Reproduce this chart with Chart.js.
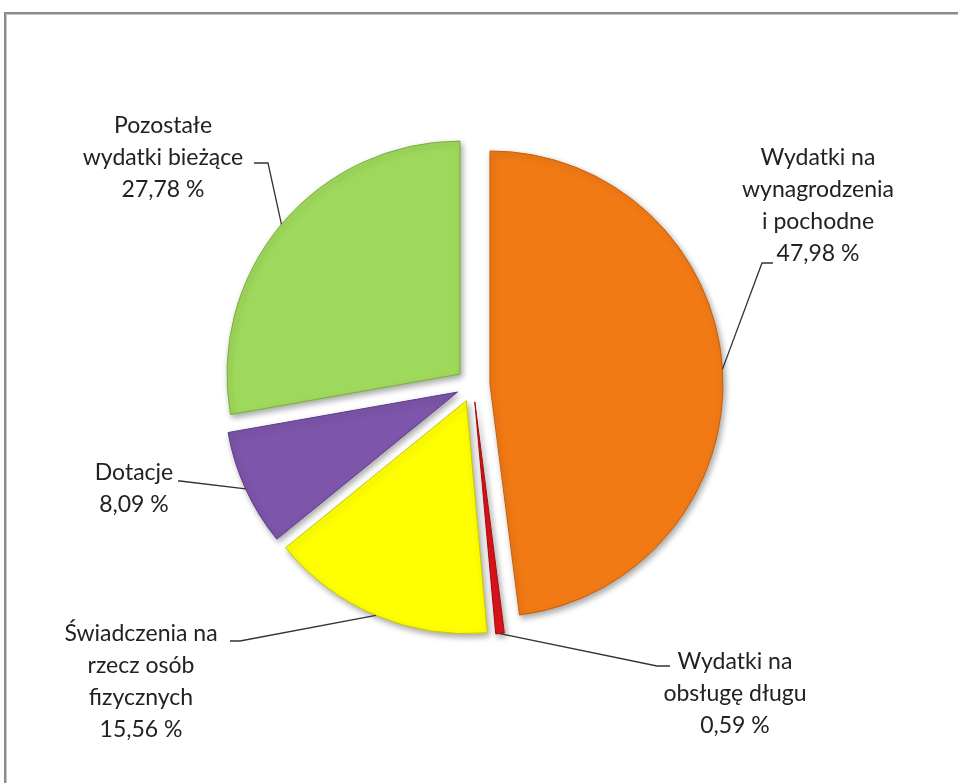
<!DOCTYPE html>
<html>
<head>
<meta charset="utf-8">
<script src="https://cdn.jsdelivr.net/npm/chart.js@4/dist/chart.umd.min.js"></script>
<style>
  body { margin: 0; background: #fff; overflow: hidden; }
  #frame {
    position: absolute; left: 4px; top: 12px; width: 1000px; height: 1000px;
    border: 2px solid #8a8a8a; box-shadow: inset 1px 1px 0 #c8c8c8;
  }
  #chart { position: absolute; left: 0; top: 0; }
</style>
</head>
<body>
<div id="frame"></div>
<canvas id="chart" width="958" height="783"></canvas>
<script>
// Slices, clockwise from 12 o'clock
const categories = [
    ['Wydatki na', 'wynagrodzenia', 'i pochodne'],
    ['Wydatki na', 'obsługę długu'],
    ['Świadczenia na', 'rzecz osób', 'fizycznych'],
    ['Dotacje'],
    ['Pozostałe', 'wydatki bieżące']
];
const shares = [47.98, 0.59, 15.56, 8.09, 27.78];
const sliceColors = ['#f27a15', '#e0141a', '#ffff00', '#7d55aa', '#9fd95c'];
const sliceEdges = ['#c85f08', '#a80c10', '#c8c800', '#5c3d85', '#78b03c'];

// Label placement: text centre x, first line y, leader elbow and horizontal end
const labelLayout = [
    { x: 818, y: 158, elbow: [762, 263], end: [773, 263] },
    { x: 735, y: 662, elbow: [657, 666], end: [670, 666] },
    { x: 141, y: 634, elbow: [240, 641], end: [230, 641] },
    { x: 134, y: 473, elbow: [180, 481], end: [178, 481] },
    { x: 163, y: 126, elbow: [268, 163], end: [254, 163] }
];

const EXPLODE = 17;      // px each slice moves out from the centre
const RADIUS = 233;
const LINE_H = 32;

function fmtPct(v) {
    return v.toFixed(2).replace('.', ',') + ' %';
}

// Explode slices by moving each arc's centre, plus a soft shadow
const explodePlugin = {
    id: 'explode',
    beforeDatasetsDraw(chart) {
        const area = chart.chartArea;
        const cx = (area.left + area.right) / 2;
        const cy = (area.top + area.bottom) / 2;
        chart.getDatasetMeta(0).data.forEach(arc => {
            const mid = (arc.startAngle + arc.endAngle) / 2;
            arc.x = cx + Math.cos(mid) * EXPLODE;
            arc.y = cy + Math.sin(mid) * EXPLODE;
        });
        const ctx = chart.ctx;
        ctx.save();
        ctx.shadowColor = 'rgba(0,0,0,0.35)';
        ctx.shadowBlur = 6;
        ctx.shadowOffsetX = 2;
        ctx.shadowOffsetY = 3;
    },
    afterDatasetsDraw(chart) {
        chart.ctx.restore();
    }
};

// Text labels with leader lines
const labelPlugin = {
    id: 'pieLabels',
    afterDraw(chart) {
        const ctx = chart.ctx;
        const meta = chart.getDatasetMeta(0);
        ctx.save();
        ctx.font = '23px Lato, "Noto Sans", sans-serif';
        ctx.fillStyle = '#222';
        ctx.textAlign = 'center';
        ctx.textBaseline = 'middle';
        ctx.strokeStyle = '#333';
        ctx.lineWidth = 1.3;

        meta.data.forEach((arc, i) => {
            const mid = (arc.startAngle + arc.endAngle) / 2;
            const ax = arc.x + Math.cos(mid) * arc.outerRadius;
            const ay = arc.y + Math.sin(mid) * arc.outerRadius;
            const lay = labelLayout[i];

            ctx.beginPath();
            ctx.moveTo(ax, ay);
            ctx.lineTo(lay.elbow[0], lay.elbow[1]);
            ctx.lineTo(lay.end[0], lay.end[1]);
            ctx.stroke();

            const lines = categories[i].concat([fmtPct(shares[i])]);
            lines.forEach((t, k) => ctx.fillText(t, lay.x, lay.y + k * LINE_H));
        });
        ctx.restore();
    }
};

new Chart(document.getElementById('chart'), {
    type: 'pie',
    data: {
        labels: categories.map(c => c.join(' ')),
        datasets: [{
            data: shares,
            backgroundColor: sliceColors,
            borderColor: sliceEdges,
            borderWidth: 1,
            hoverOffset: 0
        }]
    },
    options: {
        responsive: false,
        animation: false,
        radius: RADIUS,
        layout: { padding: { left: 223, top: 135, right: 235, bottom: 148 } },
        plugins: {
            legend: { display: false },
            tooltip: { enabled: false }
        }
    },
    plugins: [explodePlugin, labelPlugin]
});
</script>
</body>
</html>
